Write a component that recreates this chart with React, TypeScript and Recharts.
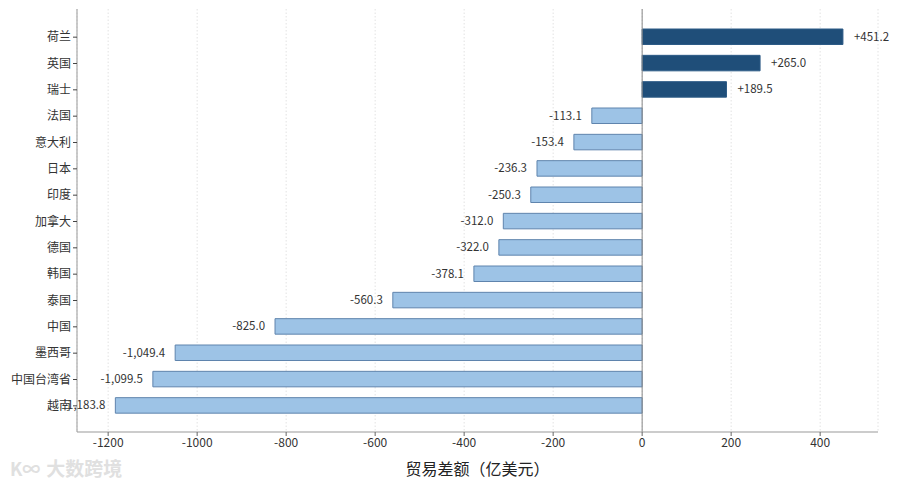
import React from "react";
import {
  BarChart,
  Bar,
  XAxis,
  YAxis,
  CartesianGrid,
  ReferenceLine,
  LabelList,
  Cell,
} from "recharts";

const countries = [
  "荷兰",
  "英国",
  "瑞士",
  "法国",
  "意大利",
  "日本",
  "印度",
  "加拿大",
  "德国",
  "韩国",
  "泰国",
  "中国",
  "墨西哥",
  "中国台湾省",
  "越南",
];
const balances = [
  451.2, 265.0, 189.5, -113.1, -153.4, -236.3, -250.3, -312.0, -322.0, -378.1,
  -560.3, -825.0, -1049.4, -1099.5, -1183.8,
];
const xTicks = [-1200, -1000, -800, -600, -400, -200, 0, 200, 400];

const data = countries.map((name, i) => ({ name, value: balances[i] }));

const FONT = "'Noto Sans CJK SC', 'Noto Sans', sans-serif";

const fmt = (v: number) => {
  const s = Math.abs(v).toLocaleString("en-US", {
    minimumFractionDigits: 1,
    maximumFractionDigits: 1,
  });
  return (v >= 0 ? "+" : "-") + s;
};

const renderLabel = (props: any) => {
  const { x, y, width, height, value } = props;
  const x0 = Number(x);
  const w = Number(width);
  const cy = Number(y) + Number(height) / 2;
  const v = Number(value);
  const end = v >= 0 ? Math.max(x0, x0 + w) : Math.min(x0, x0 + w);
  return (
    <text
      x={v >= 0 ? end + 11 : end - 10}
      y={cy}
      dy="0.35em"
      textAnchor={v >= 0 ? "start" : "end"}
      fontSize={11.5}
      fill="#333"
      fontFamily={FONT}
    >
      {fmt(v)}
    </text>
  );
};

export default function App() {
  return (
    <div
      style={{
        position: "absolute",
        left: 0,
        top: 0,
        width: 900,
        height: 488,
        background: "#fff",
        fontFamily: FONT,
      }}
    >
      <BarChart
        width={900}
        height={488}
        data={data}
        layout="vertical"
        margin={{ top: 9, right: 22, bottom: 0, left: 0 }}
      >
        <CartesianGrid
          horizontal={false}
          vertical={true}
          stroke="#e2e2e2"
          strokeDasharray="1.5 2"
        />
        <XAxis
          type="number"
          domain={[-1270, 530]}
          ticks={xTicks}
          allowDataOverflow
          height={56}
          stroke="#999"
          tickLine={{ stroke: "#666" }}
          tickSize={4}
          tick={{ fontSize: 12, fill: "#333", fontFamily: FONT }}
          label={{
            value: "贸易差额（亿美元）",
            position: "insideBottom",
            offset: 13,
            fontSize: 16,
            fill: "#222",
            fontFamily: FONT,
          }}
        />
        <YAxis
          type="category"
          dataKey="name"
          width={77}
          padding={{ top: 15, bottom: 13 }}
          stroke="#999"
          tickLine={{ stroke: "#444" }}
          tickSize={4}
          interval={0}
          tick={{ fontSize: 12, fill: "#333", fontFamily: FONT }}
        />
        <ReferenceLine x={0} stroke="#888" strokeWidth={1} />
        <Bar dataKey="value" barSize={15.5} isAnimationActive={false}>
          {data.map((d, i) => (
            <Cell
              key={i}
              fill={d.value >= 0 ? "#1f4e79" : "#9dc3e6"}
              stroke={d.value >= 0 ? "#2d5b86" : "#5f84ad"}
              strokeWidth={1}
            />
          ))}
          <LabelList dataKey="value" content={renderLabel} />
        </Bar>
      </BarChart>
      <div
        style={{
          position: "absolute",
          left: 10,
          top: 454,
          fontSize: 19,
          color: "#e0e0e0",
          fontFamily: FONT,
          fontWeight: 700,
          letterSpacing: 0,
          whiteSpace: "nowrap",
        }}
      >
        <span style={{ fontSize: 18, marginRight: 6 }}>K∞</span>大数跨境
      </div>
    </div>
  );
}
